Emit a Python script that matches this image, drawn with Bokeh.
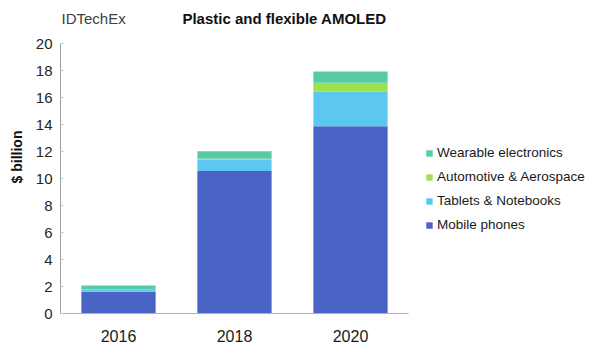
from bokeh.plotting import figure
from bokeh.models import Legend, LegendItem, Label, ColumnDataSource, FixedTicker, Range1d
from bokeh.embed import file_html
from bokeh.resources import INLINE

years = ["2016", "2018", "2020"]
mobile = [1.62, 10.55, 13.87]
tablets = [0.15, 0.85, 2.57]
automotive = [0.0, 0.07, 0.65]
wearable = [0.3, 0.55, 0.84]
series = ["Mobile phones", "Tablets & Notebooks", "Automotive & Aerospace", "Wearable electronics"]
colors = ["#4A64C6", "#5CC8F2", "#9CE24E", "#58CBA6"]
y_ticks = [0, 2, 4, 6, 8, 10, 12, 14, 16, 18, 20]

xs = list(range(len(years)))
src = ColumnDataSource(dict(x=xs, m=mobile, t=tablets, a=automotive, w=wearable))

FONT = "Liberation Sans"
W, H = 587, 349
LEFT, BOTTOM = 60, 36
PX_X = 116.0   # px per category
PX_Y = 13.5    # px per $bn
frame_w = W - LEFT
frame_h = H - BOTTOM

p = figure(x_range=Range1d(-0.5, -0.5 + frame_w / PX_X), y_range=Range1d(0, frame_h / PX_Y),
           width=W, height=H, output_backend="svg", toolbar_location=None,
           min_border_left=LEFT, min_border_right=0, min_border_top=0, min_border_bottom=BOTTOM)

rs = p.vbar_stack(["m", "t", "a", "w"], x="x", width=0.64, source=src,
                  color=colors, line_color=None)

p.xgrid.visible = False
p.ygrid.visible = False
p.outline_line_color = None

p.yaxis.ticker = FixedTicker(ticks=y_ticks)
p.yaxis.bounds = (0, 20)
p.yaxis.axis_line_color = "#A0A0A0"
p.yaxis.major_tick_line_color = "#C8C8C8"
p.yaxis.major_tick_out = 0
p.yaxis.major_tick_in = 3
p.yaxis.minor_tick_line_color = None
p.yaxis.major_label_text_font = FONT
p.yaxis.major_label_text_font_size = "15px"
p.yaxis.major_label_text_color = "#262626"
p.yaxis.major_label_standoff = 8
p.yaxis.axis_label = "$ billion"
p.yaxis.axis_label_text_font = FONT
p.yaxis.axis_label_text_font_size = "14px"
p.yaxis.axis_label_text_font_style = "bold"
p.yaxis.axis_label_text_color = "#111111"
p.yaxis.axis_label_standoff = 8

p.xaxis.ticker = FixedTicker(ticks=xs)
p.xaxis.major_label_overrides = {i: y for i, y in zip(xs, years)}
p.xaxis.bounds = (-0.5, len(years) - 0.5)
p.xaxis.axis_line_color = "#B0B0B0"
p.xaxis.major_tick_line_color = None
p.xaxis.minor_tick_line_color = None
p.xaxis.major_label_text_font = FONT
p.xaxis.major_label_text_font_size = "16px"
p.xaxis.major_label_text_color = "#1a1a1a"
p.xaxis.major_label_standoff = 10

items = [LegendItem(label=series[i], renderers=[rs[i]]) for i in [3, 2, 1, 0]]
legend = Legend(items=items, location=(365, 80), orientation="vertical",
                label_text_font=FONT, label_text_font_size="13.5px", label_text_color="#1a1a1a",
                glyph_width=8, glyph_height=8, label_standoff=4, spacing=7,
                border_line_color=None, background_fill_alpha=0, padding=0, margin=0,
                label_height=17)
p.add_layout(legend)

# header texts, placed in screen px from the frame's bottom-left
title = Label(x=224, y=frame_h - 18, x_units="screen", y_units="screen",
              text="Plastic and flexible AMOLED", text_align="center", text_baseline="middle",
              text_font=FONT, text_font_size="15px", text_font_style="bold", text_color="#111111")
p.add_layout(title)

brand = Label(x=1, y=frame_h - 18, x_units="screen", y_units="screen", text="IDTechEx",
              text_font=FONT, text_font_size="15px", text_color="#404040", text_baseline="middle")
p.add_layout(brand)

open("out.html", "w").write(file_html(p, INLINE))
